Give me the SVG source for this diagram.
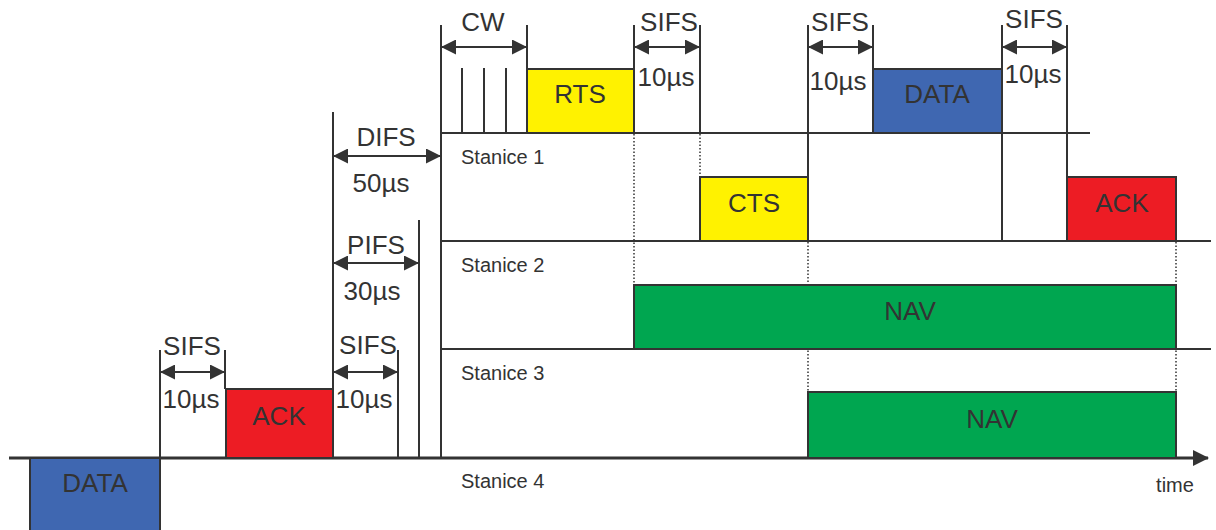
<svg xmlns="http://www.w3.org/2000/svg" width="1216" height="530" viewBox="0 0 1216 530">
<defs>
<style>
.ln{stroke:#333;stroke-width:2;fill:none}
.ax{stroke:#333;stroke-width:3;fill:none}
.dt{stroke:#333;stroke-width:1.5;stroke-dasharray:1.5 2;fill:none}
.dim{stroke:#333;stroke-width:2;fill:none;marker-start:url(#ah);marker-end:url(#ah)}
.box{stroke:#333;stroke-width:2}
.t{font-family:"Liberation Sans",Arial,sans-serif;font-size:26px;fill:#333;text-anchor:middle}
.s{font-family:"Liberation Sans",Arial,sans-serif;font-size:20px;fill:#333}
.yel{fill:#FFF200}.red{fill:#ED1C24}.blu{fill:#3F67B1}.grn{fill:#00A650}
</style>
<marker id="ah" viewBox="0 0 15 15" refX="15" refY="7.5" markerWidth="15" markerHeight="15" markerUnits="userSpaceOnUse" orient="auto-start-reverse">
<path d="M0,0 L15,7.5 L0,15 z" fill="#333"/>
</marker>
<marker id="big" viewBox="0 0 16 16" refX="15" refY="8" markerWidth="16" markerHeight="16" markerUnits="userSpaceOnUse" orient="auto">
<path d="M0,0 L16,8 L0,16 z" fill="#333"/>
</marker>
</defs>
<rect width="1216" height="530" fill="#fff"/>

<g id="connectors">
<!-- station baselines -->
<line class="ln" x1="441" y1="133" x2="1090" y2="133"/>
<line class="ln" x1="441" y1="241" x2="1211" y2="241"/>
<line class="ln" x1="441" y1="349" x2="1211" y2="349"/>
<line class="ax" x1="9" y1="458" x2="1208" y2="458" marker-end="url(#big)"/>
<!-- vertical markers -->
<line class="ln" x1="160" y1="350" x2="160" y2="458"/>
<line class="ln" x1="225" y1="350" x2="225" y2="389"/>
<line class="ln" x1="333" y1="112" x2="333" y2="458"/>
<line class="ln" x1="398" y1="350" x2="398" y2="458"/>
<line class="ln" x1="419" y1="220" x2="419" y2="458"/>
<line class="ln" x1="441" y1="25" x2="441" y2="458"/>
<line class="ln" x1="462" y1="68" x2="462" y2="133"/>
<line class="ln" x1="484" y1="68" x2="484" y2="133"/>
<line class="ln" x1="506" y1="68" x2="506" y2="133"/>
<line class="ln" x1="527" y1="25" x2="527" y2="69"/>
<line class="ln" x1="634" y1="25" x2="634" y2="69"/>
<line class="ln" x1="700" y1="25" x2="700" y2="133"/>
<line class="ln" x1="808" y1="25" x2="808" y2="177"/>
<line class="ln" x1="873" y1="25" x2="873" y2="69"/>
<line class="ln" x1="1002" y1="25" x2="1002" y2="241"/>
<line class="ln" x1="1067" y1="25" x2="1067" y2="177"/>
<!-- dotted projections -->
<line class="dt" x1="634" y1="134" x2="634" y2="285"/>
<line class="dt" x1="700" y1="134" x2="700" y2="177"/>
<line class="dt" x1="808" y1="242" x2="808" y2="392"/>
<line class="dt" x1="1176" y1="242" x2="1176" y2="458"/>
</g>

<g id="data1"><rect class="box blu" x="30" y="458" width="130" height="80"/><text class="t" x="95" y="492">DATA</text></g>
<g id="ack1"><rect class="box red" x="226" y="389" width="107" height="69"/><text class="t" x="279" y="425">ACK</text></g>
<g id="rts"><rect class="box yel" x="527" y="69" width="107" height="64"/><text class="t" x="580" y="103">RTS</text></g>
<g id="cts"><rect class="box yel" x="700" y="177" width="108" height="64"/><text class="t" x="754" y="212">CTS</text></g>
<g id="data2"><rect class="box blu" x="873" y="69" width="129" height="64"/><text class="t" x="937" y="103">DATA</text></g>
<g id="ack2"><rect class="box red" x="1067" y="177" width="109" height="64"/><text class="t" x="1122" y="212">ACK</text></g>
<g id="nav1"><rect class="box grn" x="634" y="285" width="542" height="64"/><text class="t" x="910" y="320">NAV</text></g>
<g id="nav2"><rect class="box grn" x="808" y="392" width="368" height="66"/><text class="t" x="992" y="428">NAV</text></g>

<g id="sifs-a"><line class="dim" x1="160" y1="372" x2="225" y2="372"/><text class="t" x="192" y="355">SIFS</text><text class="t" x="191" y="408">10µs</text></g>
<g id="sifs-b"><line class="dim" x1="333" y1="372" x2="398" y2="372"/><text class="t" x="368" y="354">SIFS</text><text class="t" x="364" y="408">10µs</text></g>
<g id="pifs"><line class="dim" x1="333" y1="263" x2="419" y2="263"/><text class="t" x="376" y="254">PIFS</text><text class="t" x="372" y="300">30µs</text></g>
<g id="difs"><line class="dim" x1="333" y1="156" x2="441" y2="156"/><text class="t" x="386" y="146">DIFS</text><text class="t" x="381" y="192">50µs</text></g>
<g id="cw"><line class="dim" x1="441" y1="47" x2="527" y2="47"/><text class="t" x="483" y="31">CW</text></g>
<g id="sifs-c"><line class="dim" x1="634" y1="47" x2="700" y2="47"/><text class="t" x="669" y="31">SIFS</text><text class="t" x="666" y="86">10µs</text></g>
<g id="sifs-d"><line class="dim" x1="808" y1="47" x2="873" y2="47"/><text class="t" x="840" y="31">SIFS</text><text class="t" x="838" y="90">10µs</text></g>
<g id="sifs-e"><line class="dim" x1="1002" y1="47" x2="1067" y2="47"/><text class="t" x="1034" y="28">SIFS</text><text class="t" x="1033" y="83">10µs</text></g>

<g id="stanice1"><text class="s" x="461" y="164">Stanice 1</text></g>
<g id="stanice2"><text class="s" x="461" y="272">Stanice 2</text></g>
<g id="stanice3"><text class="s" x="461" y="380">Stanice 3</text></g>
<g id="stanice4"><text class="s" x="461" y="488">Stanice 4</text></g>
<g id="time"><text class="s" x="1175" y="492" text-anchor="middle">time</text></g>
</svg>
